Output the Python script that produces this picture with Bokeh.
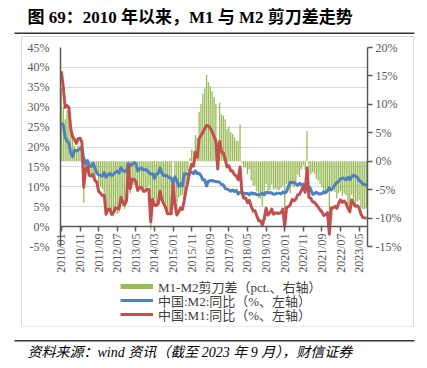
import numpy as np
from bokeh.plotting import figure
from bokeh.layouts import column
from bokeh.models import (Range1d, LinearAxis, FixedTicker, PrintfTickFormatter, Label,
                          BoxAnnotation, Legend, LegendItem, ColumnDataSource)
from bokeh.embed import file_html
from bokeh.resources import INLINE

# ---------------- data ----------------
MONTHS = [f"{y}/{m:02d}" for y in range(2010, 2024) for m in range(1, 13)][:165]

M2_YOY = [
    26.0, 25.5, 22.5, 21.5, 21.0, 18.5, 17.6, 19.2, 19.0, 19.3, 19.5, 19.7,   # 2010
    17.2, 15.7, 16.6, 15.3, 15.1, 15.9, 14.7, 13.5, 13.0, 12.9, 12.7, 13.6,   # 2011
    12.4, 13.0, 13.4, 12.8, 13.2, 13.6, 13.9, 13.5, 14.8, 14.1, 13.9, 13.8,   # 2012
    15.9, 15.2, 15.7, 16.1, 15.8, 14.0, 14.5, 14.7, 14.2, 14.3, 14.2, 13.6,   # 2013
    13.2, 13.3, 12.1, 13.2, 13.4, 14.7, 13.5, 12.8, 12.9, 12.6, 12.3, 12.2,   # 2014
    10.8, 12.5, 11.6, 10.1, 10.8, 10.2, 13.3, 13.3, 13.1, 13.5, 13.7, 13.3,   # 2015
    14.0, 13.3, 13.4, 12.8, 11.8, 11.8, 10.2, 11.4, 11.5, 11.6, 11.4, 11.3,   # 2016
    11.3, 11.1, 10.6, 10.5, 9.6, 9.4, 9.2, 8.9, 9.2, 8.8, 9.1, 8.2,           # 2017
    8.6, 8.8, 8.2, 8.3, 8.3, 8.0, 8.5, 8.2, 8.3, 8.0, 8.0, 8.1,               # 2018
    8.4, 8.0, 8.6, 8.5, 8.5, 8.5, 8.1, 8.2, 8.4, 8.4, 8.2, 8.7,               # 2019
    8.4, 8.8, 10.1, 11.1, 11.1, 11.1, 10.7, 10.4, 10.9, 10.5, 10.7, 10.1,     # 2020
    9.4, 10.1, 9.4, 8.1, 8.3, 8.6, 8.3, 8.2, 8.3, 8.7, 8.5, 9.0,              # 2021
    9.8, 9.2, 9.7, 10.5, 11.1, 11.4, 12.0, 12.2, 12.1, 11.8, 12.4, 11.8,      # 2022
    12.6, 12.9, 12.7, 12.4, 11.6, 11.3, 10.7, 10.6, 10.3,                     # 2023
]

M1_YOY = [
    39.0, 35.0, 29.9, 30.4, 29.9, 24.6, 22.6, 21.9, 20.9, 22.1, 22.2, 21.2,   # 2010
    9.9, 14.5, 15.0, 12.9, 12.7, 13.1, 11.6, 11.2, 8.9, 8.4, 7.8, 7.9,        # 2011
    3.1, 4.3, 4.4, 3.1, 3.5, 4.7, 4.6, 4.5, 7.3, 6.1, 5.5, 6.5,               # 2012
    15.3, 9.5, 11.9, 11.9, 11.3, 9.1, 9.7, 9.9, 8.9, 8.9, 9.4, 9.3,           # 2013
    1.2, 6.9, 5.4, 5.3, 5.7, 8.9, 6.7, 5.7, 4.8, 3.2, 3.2, 3.2,               # 2014
    10.6, 5.6, 2.9, 3.7, 4.7, 4.3, 6.6, 9.3, 11.4, 14.0, 15.7, 15.2,          # 2015
    18.6, 17.4, 22.1, 22.9, 23.7, 24.6, 25.4, 25.3, 24.7, 23.9, 22.7, 21.4,   # 2016
    14.5, 21.4, 18.8, 18.5, 17.0, 15.0, 15.3, 14.0, 14.0, 13.0, 12.7, 11.8,   # 2017
    15.0, 8.5, 7.1, 7.2, 6.0, 6.6, 5.1, 3.9, 4.0, 2.7, 1.5, 1.5,              # 2018
    0.4, 2.0, 4.6, 2.9, 3.4, 4.4, 3.1, 3.4, 3.4, 3.3, 3.5, 4.4,               # 2019
    0.0, 4.8, 5.0, 5.5, 6.8, 6.5, 6.9, 8.0, 8.1, 9.1, 10.0, 8.6,              # 2020
    14.7, 7.4, 7.1, 6.2, 6.1, 5.5, 4.9, 4.2, 3.7, 2.8, 3.0, 3.5,              # 2021
    -1.9, 4.7, 4.7, 5.1, 4.6, 5.8, 6.7, 6.1, 6.4, 5.8, 4.6, 3.7,              # 2022
    6.7, 5.8, 5.1, 5.3, 4.7, 3.1, 2.3, 2.2, 2.1,                              # 2023
]

SPREAD = [round(a - b, 2) for a, b in zip(M1_YOY, M2_YOY)]  # M1-M2 剪刀差

TICK_POS = list(range(0, 165, 10))
TICK_LABELS = ["2010/01", "2010/11", "2011/09", "2012/07", "2013/05", "2014/03",
               "2015/01", "2015/11", "2016/09", "2017/07", "2018/05", "2019/03",
               "2020/01", "2020/11", "2021/09", "2022/07", "2023/05"]
LEFT_TICKS = [-5, 0, 5, 10, 15, 20, 25, 30, 35, 40, 45]
RIGHT_TICKS = [-15, -10, -5, 0, 5, 10, 15, 20]

TITLE = "图 69：2010 年以来，M1 与 M2 剪刀差走势"
SOURCE = "资料来源：wind 资讯（截至 2023 年 9 月），财信证券"
LEG_SPREAD = "M1-M2剪刀差（pct.、右轴）"
LEG_M2 = "中国:M2:同比（%、左轴）"
LEG_M1 = "中国:M1:同比（%、左轴）"

# ---------------- styles ----------------
SERIF = "'Liberation Serif', 'Noto Sans CJK SC'"
GREEN, BLUE, RED = "#9BBB59", "#4F81BD", "#C0504D"
AXIS_C = "#595959"
LABEL_C = "#595959"


def deco_fig(w, h):
    f = figure(width=w, height=h, output_backend="svg", toolbar_location=None,
               x_axis_type=None, y_axis_type=None, x_range=Range1d(0, 1),
               y_range=Range1d(0, 1), min_border=0)
    f.outline_line_color = None
    f.grid.visible = False
    return f


def rule(left, right, top, bottom, color):
    return BoxAnnotation(left=left, right=right, top=top, bottom=bottom,
                         left_units="screen", right_units="screen",
                         top_units="screen", bottom_units="screen",
                         fill_color=color, fill_alpha=1, line_color=None)


# ---------------- title strip ----------------
fig_top = deco_fig(427, 37)
fig_top.add_layout(Label(x=27, y=20, x_units="screen", y_units="screen", text=TITLE,
                         text_font=SERIF, text_font_style="bold", text_font_size="17px",
                         text_baseline="middle", text_color="#000000"))
fig_top.add_layout(rule(14, 414, 5, 3.5, "#333333"))

# ---------------- main chart ----------------
p = figure(width=391, height=238, output_backend="svg", toolbar_location=None,
           x_range=Range1d(-0.5, len(MONTHS) - 0.5), y_range=Range1d(-5, 45),
           min_border_left=38, min_border_right=46, min_border_top=10,
           min_border_bottom=26)
p.extra_y_ranges = {"right": Range1d(-15, 20)}
p.outline_line_color = None
p.xgrid.visible = False
p.ygrid.grid_line_color = "#D9D9D9"
p.ygrid.grid_line_width = 1

src = ColumnDataSource(dict(x=list(range(len(MONTHS))), m1=M1_YOY, m2=M2_YOY, spread=SPREAD))

bars = p.vbar(x="x", top="spread", bottom=0, width=0.7, source=src, y_range_name="right",
              fill_color=GREEN, line_color=None)
blue = p.line("x", "m2", source=src, line_color=BLUE, line_width=3, line_join="round")
red = p.line("x", "m1", source=src, line_color=RED, line_width=3, line_join="round")

xa = p.below[0]   # default bottom axis -> used for the vertical date labels

# left axis
yl = p.yaxis[0]
yl.ticker = FixedTicker(ticks=LEFT_TICKS)
yl.formatter = PrintfTickFormatter(format="%d%%")
yl.major_tick_line_color = None
yl.minor_tick_line_color = None
yl.axis_line_color = AXIS_C
yl.axis_line_width = 1.5
yl.major_label_text_font = SERIF
yl.major_label_text_font_size = "12px"
yl.major_label_text_color = LABEL_C
yl.major_label_standoff = 5

# right axis
yr = LinearAxis(y_range_name="right", ticker=FixedTicker(ticks=RIGHT_TICKS),
                formatter=PrintfTickFormatter(format="%d%%"))
yr.major_tick_out = 5
yr.major_tick_in = 0
yr.major_tick_line_color = AXIS_C
yr.major_tick_line_width = 1.5
yr.minor_tick_line_color = None
yr.axis_line_color = AXIS_C
yr.axis_line_width = 1.5
yr.major_label_text_font = SERIF
yr.major_label_text_font_size = "12px"
yr.major_label_text_color = LABEL_C
yr.major_label_standoff = 3
p.add_layout(yr, "right")

# x axis line + tick marks at y = 0 (no labels)
x0 = LinearAxis(fixed_location=0, ticker=FixedTicker(ticks=TICK_POS))
x0.major_label_overrides = {i: "" for i in TICK_POS}
x0.major_label_text_font_size = "1px"
x0.major_tick_in = 5
x0.major_tick_out = 0
x0.major_tick_line_color = AXIS_C
x0.major_tick_line_width = 1.5
x0.minor_tick_line_color = None
x0.axis_line_color = AXIS_C
x0.axis_line_width = 1.5
p.add_layout(x0, "above")

# x tick labels (vertical), pulled up towards the zero line
xa.ticker = FixedTicker(ticks=TICK_POS)
xa.major_label_overrides = {i: lab for i, lab in zip(TICK_POS, TICK_LABELS)}
xa.major_label_orientation = np.pi / 2
xa.major_tick_out = 0
xa.major_tick_in = 0
xa.major_tick_line_color = None
xa.minor_tick_line_color = None
xa.axis_line_color = None
xa.major_label_text_font = SERIF
xa.major_label_text_font_size = "12px"
xa.major_label_text_color = LABEL_C
xa.major_label_standoff = -13

# ---------------- legend strip ----------------
fig_leg = deco_fig(391, 51)
# legend swatches only (kept outside the visible range of this strip)
lg_red = fig_leg.line(x=[-10, -9], y=[-10, -10], line_color=RED, line_width=3)
lg_blue = fig_leg.line(x=[-10, -9], y=[-10, -10], line_color=BLUE, line_width=3)
lg_bar = fig_leg.line(x=[-10, -9], y=[-10, -10], line_color=GREEN, line_width=5,
                      line_cap="butt")

for label, rend, yloc in [(LEG_M1, lg_red, 2.5), (LEG_M2, lg_blue, 16.5),
                          (LEG_SPREAD, lg_bar, 30.5)]:
    fig_leg.add_layout(Legend(items=[LegendItem(label=label, renderers=[rend])],
                              location=(60, yloc), orientation="vertical",
                              glyph_width=33, glyph_height=6, label_height=14, spacing=0,
                              padding=0, margin=0, border_line_color=None,
                              background_fill_color=None,
                              label_text_font=SERIF, label_text_font_size="13px",
                              label_text_color="#404040", label_standoff=5), "center")

mid = column(p, fig_leg, margin=(0, 0, 0, 22),
             styles={"outline": "1px solid #D9D9D9"})

# ---------------- source strip ----------------
fig_bot = deco_fig(427, 40)
fig_bot.add_layout(rule(14, 414, 26.5, 25, "#333333"))
fig_bot.add_layout(Label(x=27, y=14, x_units="screen", y_units="screen", text=SOURCE,
                         text_font=SERIF, text_font_style="italic", text_font_size="14px",
                         text_baseline="middle", text_color="#000000"))

layout = column(fig_top, mid, fig_bot)
open("out.html", "w").write(file_html(layout, INLINE))
